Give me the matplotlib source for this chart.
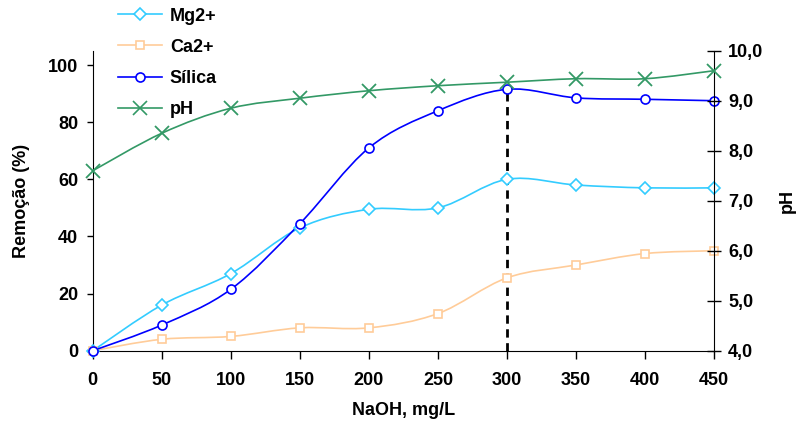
import matplotlib
matplotlib.use('Agg')
import matplotlib.pyplot as plt
from matplotlib.path import Path
from matplotlib.patches import PathPatch
from matplotlib.lines import Line2D
import numpy as np

plt.rcParams['font.family'] = ['Liberation Sans', 'DejaVu Sans']
plt.rcParams['font.weight'] = 'bold'
plt.rcParams['axes.labelweight'] = 'bold'
plt.rcParams['font.size'] = 13

naoh = [0, 50, 100, 150, 200, 250, 300, 350, 400, 450]
mg = [0, 16, 27, 43, 49.5, 50, 60, 58, 57, 57]
ca = [0, 4, 5, 8, 8, 13, 25.5, 30, 34, 35]
silica = [0, 9, 21.5, 44.5, 71, 84, 91.5, 88.5, 88, 87.5]
ph = [7.6, 8.35, 8.85, 9.05, 9.2, 9.3, 9.37, 9.44, 9.44, 9.6]

c_mg = '#33CCFF'
c_ca = '#FFCC99'
c_si = '#0000FF'
c_ph = '#339966'


def smooth_path(x, y):
    # excel style smoothed line, bezier through the points
    p = np.column_stack([x, y]).astype(float)
    n = len(p)
    verts = [p[0]]
    codes = [Path.MOVETO]
    for i in range(n - 1):
        p0 = p[i - 1] if i > 0 else p[i]
        p3 = p[i + 2] if i + 2 < n else p[i + 1]
        c1 = p[i] + (p[i + 1] - p0) / 6.0
        c2 = p[i + 1] - (p3 - p[i]) / 6.0
        verts += [c1, c2, p[i + 1]]
        codes += [Path.CURVE4] * 3
    return Path(verts, codes)


fig = plt.figure(figsize=(8, 4.28), dpi=100)
ax = fig.add_axes([0.116, 0.1806, 0.7766, 0.7009])
ax2 = ax.twinx()

ax.set_xlim(0, 450)
ax.set_ylim(0, 105)
ax2.set_ylim(4, 10)

series = [(ax, mg, c_mg, 'D', 6, 'Mg2+'),
          (ax, ca, c_ca, 's', 6, 'Ca2+'),
          (ax, silica, c_si, 'o', 6.5, 'Sílica'),
          (ax2, ph, c_ph, 'x', 10, 'pH')]

handles = []
for a, ys, col, mk, ms, lab in series:
    a.add_patch(PathPatch(smooth_path(naoh, ys), facecolor='none',
                          edgecolor=col, lw=1.2, zorder=3))
    if mk == 'x':
        a.plot(naoh, ys, ls='none', marker=mk, ms=ms, mec=col, mew=1.3,
               zorder=4, clip_on=False)
    else:
        a.plot(naoh, ys, ls='none', marker=mk, ms=ms, mec=col, mfc='white',
               mew=1.2, zorder=4, clip_on=False)
    handles.append(Line2D([], [], color=col, lw=1.2, marker=mk, ms=ms,
                          mec=col, mfc='white', mew=1.2))

# vertical dashed marker at 300 mg/L
ax.plot([300, 300], [0, silica[6]], color='black', lw=2, dashes=(3, 2),
        zorder=2)

ax.set_xticks(naoh)
ax.set_yticks([0, 20, 40, 60, 80, 100])
ax2.set_yticks([4, 5, 6, 7, 8, 9, 10])
ax2.set_yticklabels(['4,0', '5,0', '6,0', '7,0', '8,0', '9,0', '10,0'])

for a in (ax, ax2):
    a.spines['top'].set_visible(False)
ax.spines['right'].set_visible(False)
ax2.spines['left'].set_visible(False)
ax2.spines['bottom'].set_visible(False)

ax.tick_params(axis='x', direction='out', length=6, pad=9, width=1)
ax.tick_params(axis='y', direction='out', length=4.5, pad=6, width=1)
ax2.tick_params(axis='y', direction='inout', length=10, pad=5, width=1)

ax.set_xlabel('NaOH, mg/L')
ax.xaxis.set_label_coords(0.5, -0.172)
ax.set_ylabel('Remoção (%)')
ax.yaxis.set_label_coords(-0.101, 0.5)
ax2.set_ylabel('pH', rotation=90, va='center')
ax2.yaxis.set_label_coords(1.118, 0.5)

fig.legend(handles, [s[5] for s in series], loc='upper left',
           bbox_to_anchor=(0.148, 0.982), frameon=False, borderpad=0,
           handlelength=2.4, handletextpad=0.45, labelspacing=0.78,
           borderaxespad=0)

fig.savefig('out.png', dpi=100)
